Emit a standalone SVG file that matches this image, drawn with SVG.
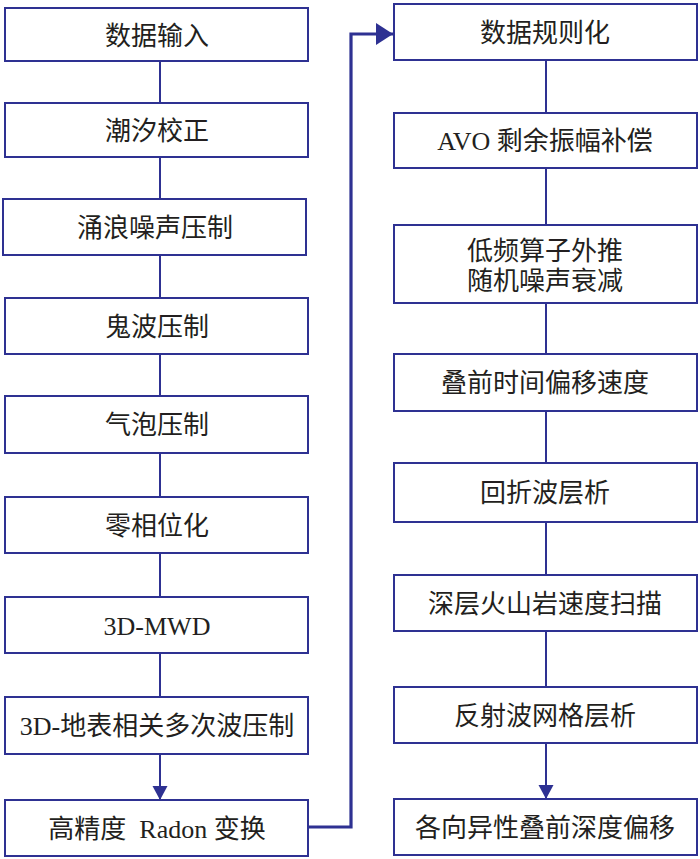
<svg xmlns="http://www.w3.org/2000/svg" width="700" height="859" viewBox="0 0 700 859">
<style>
.box{fill:#fff;stroke:#2e3192;stroke-width:2}
.t{font-family:"Liberation Serif","Noto Sans CJK SC",serif;font-size:26px;fill:#231f20;text-anchor:middle}
.c{fill:none;stroke:#2e3192;stroke-width:2}
.ct{fill:none;stroke:#2e3192;stroke-width:3.2}
</style>
<defs>
<marker id="ah" markerUnits="userSpaceOnUse" markerWidth="16" markerHeight="16" refX="14" refY="7.5" orient="auto">
<path d="M0,0 L14,7.5 L0,15 Z" fill="#2e3192"/>
</marker>
<marker id="ahb" markerUnits="userSpaceOnUse" markerWidth="20" markerHeight="24" refX="17" refY="11" orient="auto">
<path d="M0,0 L17,11 L0,22 Z" fill="#2e3192"/>
</marker>
</defs>
<rect width="700" height="859" fill="#fff"/>
<g id="connectors">
<line class="c" x1="160" y1="61" x2="160" y2="103"/>
<line class="c" x1="160" y1="157" x2="160" y2="199"/>
<line class="c" x1="160" y1="255" x2="160" y2="298"/>
<line class="c" x1="160" y1="354" x2="160" y2="396"/>
<line class="c" x1="160" y1="453" x2="160" y2="497"/>
<line class="c" x1="160" y1="553" x2="160" y2="597"/>
<line class="c" x1="160" y1="653" x2="160" y2="697"/>
<line class="c" x1="160" y1="754" x2="160" y2="800" marker-end="url(#ah)"/>
<polyline class="ct" points="308,827 351,827 351,34 393,34" marker-end="url(#ahb)"/>
<line class="c" x1="546" y1="60" x2="546" y2="113"/>
<line class="c" x1="546" y1="168" x2="546" y2="225"/>
<line class="c" x1="546" y1="303" x2="546" y2="354"/>
<line class="c" x1="546" y1="411" x2="546" y2="463"/>
<line class="c" x1="546" y1="522" x2="546" y2="575"/>
<line class="c" x1="546" y1="631" x2="546" y2="687"/>
<line class="c" x1="546" y1="743" x2="546" y2="799" marker-end="url(#ah)"/>
</g>
<g id="n1"><rect class="box" x="5" y="8" width="303" height="53"/><text class="t" x="157" y="45">数据输入</text></g>
<g id="n2"><rect class="box" x="5" y="103" width="303" height="54"/><text class="t" x="157" y="140">潮汐校正</text></g>
<g id="n3"><rect class="box" x="3" y="199" width="303" height="56"/><text class="t" x="155" y="237">涌浪噪声压制</text></g>
<g id="n4"><rect class="box" x="5" y="298" width="303" height="56"/><text class="t" x="157" y="336">鬼波压制</text></g>
<g id="n5"><rect class="box" x="5" y="396" width="303" height="57"/><text class="t" x="157" y="434">气泡压制</text></g>
<g id="n6"><rect class="box" x="5" y="497" width="303" height="56"/><text class="t" x="157" y="535">零相位化</text></g>
<g id="n7"><rect class="box" x="5" y="597" width="303" height="56"/><text class="t" x="157" y="635">3D-MWD</text></g>
<g id="n8"><rect class="box" x="5" y="697" width="303" height="57"/><text class="t" x="157" y="735">3D-地表相关多次波压制</text></g>
<g id="n9"><rect class="box" x="5" y="800" width="303" height="56"/><text class="t" x="157" y="838">高精度&#160; Radon 变换</text></g>
<g id="m1"><rect class="box" x="394" y="4" width="303" height="56"/><text class="t" x="545" y="42">数据规则化</text></g>
<g id="m2"><rect class="box" x="394" y="113" width="303" height="55"/><text class="t" x="545" y="150">AVO 剩余振幅补偿</text></g>
<g id="m3"><rect class="box" x="394" y="225" width="303" height="78"/><text class="t" x="545" y="260">低频算子外推</text><text class="t" x="545" y="290">随机噪声衰减</text></g>
<g id="m4"><rect class="box" x="394" y="354" width="303" height="57"/><text class="t" x="545" y="392">叠前时间偏移速度</text></g>
<g id="m5"><rect class="box" x="394" y="463" width="303" height="59"/><text class="t" x="545" y="502">回折波层析</text></g>
<g id="m6"><rect class="box" x="394" y="575" width="303" height="56"/><text class="t" x="545" y="613">深层火山岩速度扫描</text></g>
<g id="m7"><rect class="box" x="394" y="687" width="303" height="56"/><text class="t" x="545" y="725">反射波网格层析</text></g>
<g id="m8"><rect class="box" x="394" y="799" width="303" height="56"/><text class="t" x="545" y="837">各向异性叠前深度偏移</text></g>
</svg>
